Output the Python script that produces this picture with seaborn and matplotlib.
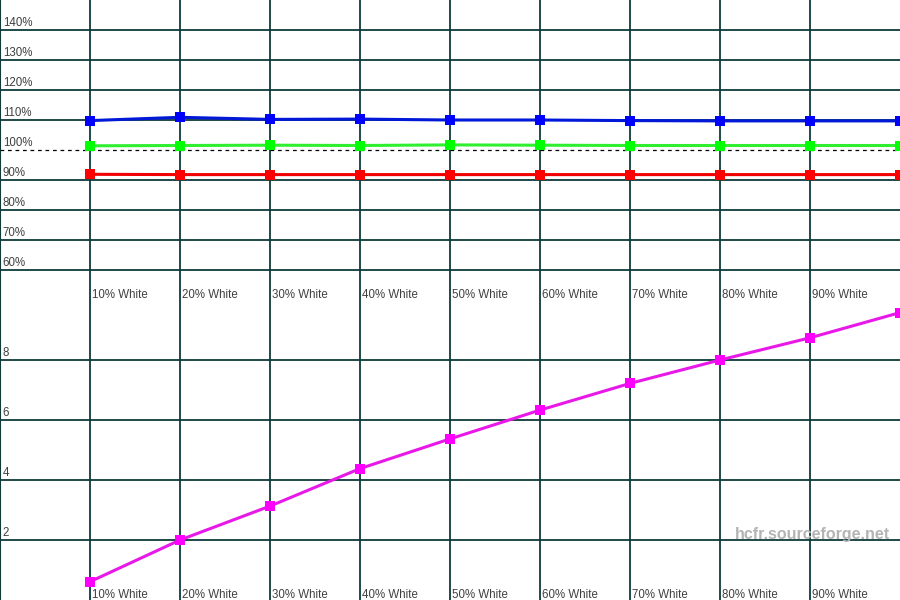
import pandas as pd
import matplotlib
matplotlib.use("Agg")
import matplotlib.pyplot as plt
import matplotlib.transforms as mtransforms
import seaborn as sns

# Valores (níveis de cinza 10%..100%)
niveis = [10, 20, 30, 40, 50, 60, 70, 80, 90, 100]
rotulos_x = ["10% White", "20% White", "30% White", "40% White", "50% White",
             "60% White", "70% White", "80% White", "90% White"]

azul = [109.8, 110.9, 110.2, 110.3, 110.0, 110.0, 109.8, 109.7, 109.7, 109.7]
verde = [101.4, 101.5, 101.6, 101.5, 101.7, 101.6, 101.5, 101.5, 101.5, 101.5]
vermelho = [91.9, 91.8, 91.8, 91.8, 91.8, 91.8, 91.8, 91.8, 91.8, 91.8]
delta_e = [0.61, 2.0, 3.13, 4.38, 5.37, 6.33, 7.22, 8.0, 8.74, 9.58]

ticks_topo = [60, 70, 80, 90, 100, 110, 120, 130, 140]
ticks_base = [2, 4, 6, 8]

sns.set_style("white")
plt.rcParams['font.family'] = ['Liberation Sans', 'DejaVu Sans']

cor_grade = '#0e3a3a'
cor_texto = '#404040'

df_topo = pd.DataFrame({'nivel': niveis, 'azul': azul, 'verde': verde, 'vermelho': vermelho})
df_base = pd.DataFrame({'nivel': niveis, 'delta_e': delta_e})

fig = plt.figure(figsize=(9, 6), dpi=100)
ax1 = fig.add_axes([0, 0.5, 1, 0.5])
ax2 = fig.add_axes([0, 0, 1, 0.5])

for ax, ticks, lim in [(ax1, ticks_topo, (50, 150)), (ax2, ticks_base, (0, 10))]:
    ax.set_xlim(0, 100)
    ax.set_ylim(*lim)
    ax.set_xticks([])
    ax.set_yticks([])
    for s in ['top', 'right', 'bottom']:
        ax.spines[s].set_visible(False)
    ax.spines['left'].set_color(cor_grade)
    ax.spines['left'].set_linewidth(1.5)
    for x in niveis[:-1]:
        ax.axvline(x, color=cor_grade, lw=1.3, zorder=1)
    for t in ticks:
        if ax is ax1 and t == 100:
            ax.axhline(t, color='black', lw=0.9, ls=(0, (3, 3)), zorder=1)
        else:
            ax.axhline(t, color=cor_grade, lw=1.3, zorder=1)
    trans = mtransforms.blended_transform_factory(ax.transAxes, ax.transData)
    for t in ticks:
        txt = f"{t}%" if ax is ax1 else f"{t}"
        ax.text(0.003, t + (lim[1] - lim[0]) * 0.004, txt, transform=trans,
                fontsize=8.3, color=cor_texto, va='bottom', ha='left')
    for x, r in zip(niveis[:-1], rotulos_x):
        ax.text(x + 0.2, lim[0] - (lim[1] - lim[0]) * 0.002, r,
                fontsize=8.3, color=cor_texto, va='bottom', ha='left')

kw = dict(marker='s', markersize=7, markeredgewidth=0, linewidth=2.2, zorder=3)
sns.lineplot(data=df_topo, x='nivel', y='azul', color='#0018d8', markerfacecolor='#0000ff', ax=ax1, **kw)
sns.lineplot(data=df_topo, x='nivel', y='verde', color='#30ee30', markerfacecolor='#00ff00', ax=ax1, **kw)
sns.lineplot(data=df_topo, x='nivel', y='vermelho', color='#f00000', markerfacecolor='#ff0000', ax=ax1, **kw)
sns.lineplot(data=df_base, x='nivel', y='delta_e', color='#e818e8', markerfacecolor='#ff00ff', ax=ax2, **kw)

for ax in (ax1, ax2):
    ax.set_xlabel('')
    ax.set_ylabel('')

ax2.text(90.3, 2.17, "hcfr.sourceforge.net", fontsize=11.5, fontweight='bold',
         color='#b4b4b4', ha='center', va='center', zorder=2)

fig.savefig("out.png", dpi=100)
